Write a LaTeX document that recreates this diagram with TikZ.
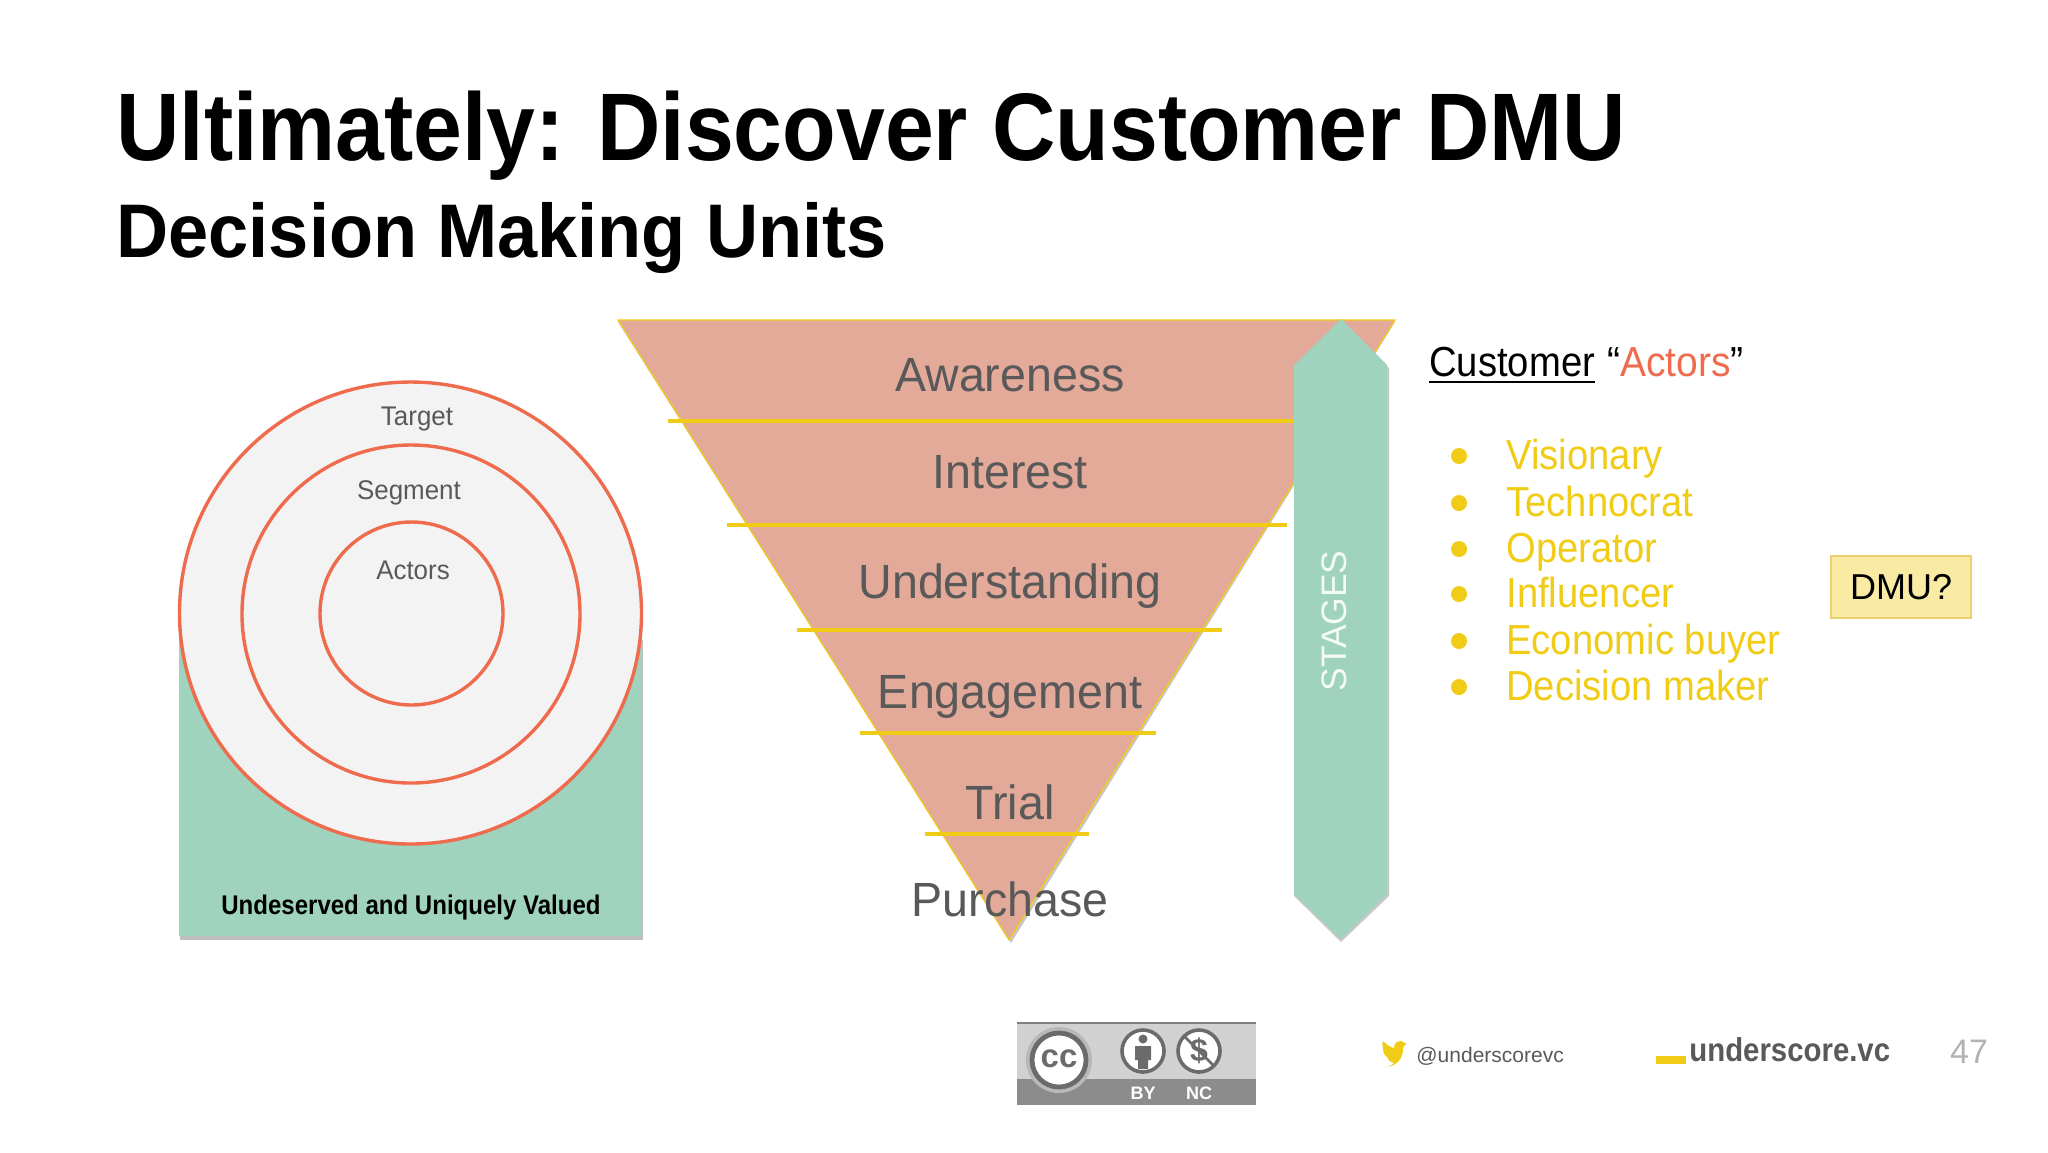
\documentclass[tikz,border=0pt]{standalone}
\usepackage{fontspec}
\setmainfont{Liberation Sans}
\definecolor{funnelred}{HTML}{E3A999}
\definecolor{stagegreen}{HTML}{9FD3BE}
\definecolor{ringred}{HTML}{EE6B4D}
\definecolor{gold}{HTML}{F1CC17}
\definecolor{dmufill}{HTML}{FAEBA4}
\definecolor{dmuline}{HTML}{EBCF70}
\definecolor{discgrey}{HTML}{F3F3F3}
\definecolor{txtgrey}{HTML}{595959}
\newcommand{\pxfont}[1]{\fontsize{#1}{#1}\selectfont}

\begin{document}
\begin{tikzpicture}[x=0.5pt,y=-0.5pt,
            ring/.style={draw=ringred,line width=1.7pt,fill=discgrey},
            stagetext/.style={text=txtgrey,font=\pxfont{24},xscale=.97,transform shape},
            ringtext/.style={text=txtgrey,font=\pxfont{13.5},xscale=.96,transform shape},
            rung/.style={draw=gold,line width=2.4pt},
            actor/.style={text=gold,font=\pxfont{21},anchor=base west,xscale=.91,transform shape,inner sep=0pt},
            dot/.style={fill=gold},
        ]
        \useasboundingbox[fill=white] (0,0) rectangle (2048,1152);
        \node[anchor=base west,inner sep=0pt,font=\bfseries\pxfont{48},xscale=.914,transform shape] (title) at (116,160) {Ultimately: Discover Customer DMU};
        \node[anchor=base west,inner sep=0pt,font=\bfseries\pxfont{38},xscale=.95,transform shape] (subtitle) at (116,257) {Decision Making Units};

        % circles
        \fill[black!25] (180,640) rectangle (643,940);
        \fill[stagegreen] (179,630) rectangle (642,936);
        \draw[ring] (410.5,613) circle[radius=231];
        \draw[ring] (411,614) circle[radius=169];
        \draw[ring] (411.5,613.5) circle[radius=91.5];
        \node[ringtext] (target) at (417,419) {Target};
        \node[ringtext] (segment) at (409,493) {Segment};
        \node[ringtext] (actors) at (413,570) {Actors};
        \node[font=\bfseries\pxfont{13.5},xscale=.89,transform shape] (valued) at (411,907) {Undeserved and Uniquely Valued};

        % funnel
        \fill[black!22] (618,322) -- (1395,322) -- (1011,943) -- cycle;
        \draw[fill=funnelred,draw=gold,line width=.6pt] (618,320) -- (1395,320) -- (1009,940) -- cycle;
        \foreach \yy/\xa/\xb in {421/668/1296,525/727/1287,630/797/1222,733/860/1156,834/925/1089}
            \draw[rung] (\xa,\yy) -- (\xb,\yy);
        \node[stagetext] (awareness) at (1010,375) {Awareness};
        \node[stagetext] (interest) at (1010,472) {Interest};
        \node[stagetext] (understanding) at (1010,586) {Understanding};
        \node[stagetext] (engagement) at (1010,697) {Engagement};
        \node[stagetext] (trial) at (1010,802) {Trial};
        \node[stagetext] (purchase) at (1010,899) {Purchase};

        % stages arrow
        \fill[black!22] (1341,322) -- (1389,368) -- (1389,896) -- (1341,942) -- (1294,896) -- (1294,368) -- cycle;
        \fill[stagegreen] (1341,319) -- (1387,365) -- (1387,894) -- (1341,939) -- (1294,894) -- (1294,365) -- cycle;
        \node[rotate=90,text=white!88!stagegreen,font=\pxfont{17.7}] (stages) at (1334,621) {STAGES};

        % actors list
        \node[actor,text=black] (customer) at (1429,376) {Customer};
        \draw[line width=.8pt] (customer.west|-0,382) -- (customer.east|-0,382);
        \node[actor,text=black,xscale=1.02] (quoted) at (1607,376) {“\textcolor{ringred}{Actors}”};
        \foreach \yy/\nm/\lbl in {456/visionary/Visionary,503/technocrat/Technocrat,549/operator/Operator,594/influencer/Influencer,641/buyer/Economic buyer,687/maker/Decision maker}{
            \fill[dot] (1459,\yy) circle[radius=8];
            \node[actor] (\nm) at (1506,\yy+13) {\lbl};
        }
        \node[draw=dmuline,fill=dmufill,line width=.8pt,minimum width=70pt,minimum height=31pt,inner sep=0pt,font=\pxfont{18}] (dmu) at (1901,587) {DMU?\hspace{6.5pt}};

        % footer
        \fill[black!18] (1017,1022) rectangle (1256,1105);
        \fill[black!45] (1017,1079) rectangle (1256,1105);
        \draw[black!50,line width=1pt] (1017,1023) -- (1256,1023);
        \fill[black!28] (1059,1060) circle[radius=33];
        \draw[fill=white,draw=black!58,line width=2.4pt] (1059,1060) circle[radius=27];
        \node[font=\bfseries\pxfont{16.5},text=black!58,inner sep=0pt] (cc) at (1059,1059) {cc};
        \draw[fill=white,draw=black!58,line width=1.8pt] (1143,1051) circle[radius=21];
        \fill[black!58] (1143,1039) circle[radius=4.5] (1135,1046) rectangle (1151,1060) (1138,1060) rectangle (1148,1069);
        \draw[fill=white,draw=black!58,line width=1.8pt] (1199,1051) circle[radius=21];
        \node[font=\bfseries\pxfont{16},text=black!58,inner sep=0pt] (coin) at (1199,1051) {\$};
        \draw[black!58,line width=1.4pt] (1184,1036) -- (1214,1066);
        \node[font=\bfseries\pxfont{9},text=white,inner sep=0pt] (by) at (1143,1093) {BY};
        \node[font=\bfseries\pxfont{9},text=white,inner sep=0pt] (nc) at (1199,1093) {NC};

        \fill[gold] (1406,1044) .. controls (1404,1046) and (1403,1047) .. (1403,1049) .. controls (1403,1058) and (1397,1067) .. (1384,1067) .. controls (1389,1067) and (1392,1065) .. (1394,1063) .. controls (1390,1062) and (1388,1060) .. (1387,1057) .. controls (1384,1055) and (1383,1052) .. (1383,1048) .. controls (1382,1046) and (1382,1043) .. (1383,1041) .. controls (1387,1045) and (1390,1047) .. (1394,1048) .. controls (1394,1043) and (1397,1041) .. (1400,1041) .. controls (1402,1041) and (1404,1042) .. (1405,1043) -- cycle;
        \node[anchor=west,inner sep=0pt,text=txtgrey,font=\pxfont{10.5}] (handle) at (1416,1056) {@underscorevc};
        \fill[gold] (1656,1056) rectangle (1686,1064);
        \node[anchor=west,inner sep=0pt,text=txtgrey,font=\bfseries\pxfont{16.5},xscale=.89,transform shape] (brand) at (1689,1050) {underscore.vc};
        \node[text=black!30,font=\pxfont{17},inner sep=0pt] (pagenum) at (1969,1052) {47};
    \end{tikzpicture}
\end{document}
